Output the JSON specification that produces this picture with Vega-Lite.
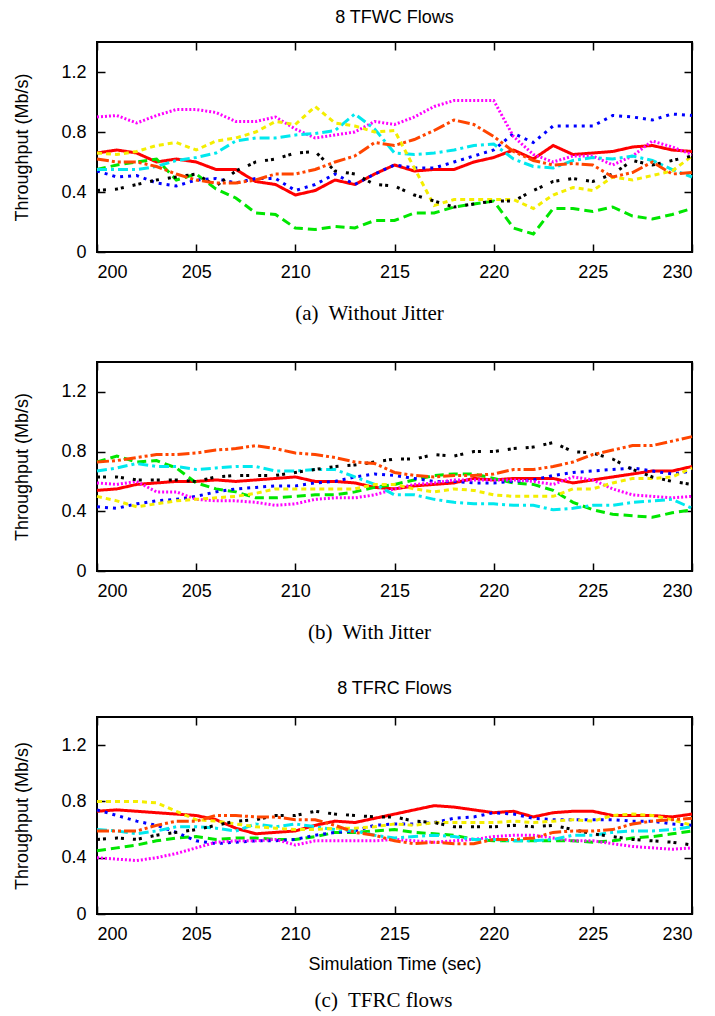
{
"$schema": "https://vega.github.io/schema/vega-lite/v6.json",
"background": "white",
"padding": {"left": 12, "top": 8, "right": 5, "bottom": 5},
"spacing": 36,
"config": {
 "view": {"stroke": "black", "strokeWidth": 2},
 "axis": {"grid": false, "domain": false, "tickColor": "black", "tickWidth": 1.5, "tickSize": -8, "labelPadding": 19, "labelFont": "Liberation Sans", "labelFontSize": 18, "labelColor": "black", "titleFont": "Liberation Sans", "titleFontSize": 18, "titleFontWeight": "normal", "titleColor": "black"},
 "title": {"font": "Liberation Sans", "fontSize": 18, "fontWeight": "normal", "color": "black"}
},
"title": {"text": "(c)\u00a0 TFRC flows", "orient": "bottom", "anchor": "middle", "frame": "group", "offset": 16, "dx": -11, "font": "Liberation Serif", "fontSize": 21, "fontWeight": "normal", "color": "black"},
"datasets": {
"a": [
{"t":200,"f":"r","v":0.66},{"t":201,"f":"r","v":0.68},{"t":202,"f":"r","v":0.66},{"t":203,"f":"r","v":0.60},{"t":204,"f":"r","v":0.62},{"t":205,"f":"r","v":0.60},{"t":206,"f":"r","v":0.55},{"t":207,"f":"r","v":0.55},{"t":208,"f":"r","v":0.47},{"t":209,"f":"r","v":0.45},{"t":210,"f":"r","v":0.38},{"t":211,"f":"r","v":0.41},{"t":212,"f":"r","v":0.48},{"t":213,"f":"r","v":0.45},{"t":214,"f":"r","v":0.52},{"t":215,"f":"r","v":0.58},{"t":216,"f":"r","v":0.54},{"t":217,"f":"r","v":0.55},{"t":218,"f":"r","v":0.55},{"t":219,"f":"r","v":0.60},{"t":220,"f":"r","v":0.63},{"t":221,"f":"r","v":0.68},{"t":222,"f":"r","v":0.62},{"t":223,"f":"r","v":0.71},{"t":224,"f":"r","v":0.65},{"t":225,"f":"r","v":0.66},{"t":226,"f":"r","v":0.67},{"t":227,"f":"r","v":0.70},{"t":228,"f":"r","v":0.71},{"t":229,"f":"r","v":0.68},{"t":230,"f":"r","v":0.67},
{"t":200,"f":"g","v":0.55},{"t":201,"f":"g","v":0.58},{"t":202,"f":"g","v":0.60},{"t":203,"f":"g","v":0.62},{"t":204,"f":"g","v":0.48},{"t":205,"f":"g","v":0.52},{"t":206,"f":"g","v":0.42},{"t":207,"f":"g","v":0.36},{"t":208,"f":"g","v":0.26},{"t":209,"f":"g","v":0.25},{"t":210,"f":"g","v":0.16},{"t":211,"f":"g","v":0.15},{"t":212,"f":"g","v":0.17},{"t":213,"f":"g","v":0.16},{"t":214,"f":"g","v":0.21},{"t":215,"f":"g","v":0.21},{"t":216,"f":"g","v":0.26},{"t":217,"f":"g","v":0.26},{"t":218,"f":"g","v":0.30},{"t":219,"f":"g","v":0.32},{"t":220,"f":"g","v":0.34},{"t":221,"f":"g","v":0.16},{"t":222,"f":"g","v":0.12},{"t":223,"f":"g","v":0.29},{"t":224,"f":"g","v":0.29},{"t":225,"f":"g","v":0.27},{"t":226,"f":"g","v":0.30},{"t":227,"f":"g","v":0.24},{"t":228,"f":"g","v":0.22},{"t":229,"f":"g","v":0.25},{"t":230,"f":"g","v":0.29},
{"t":200,"f":"b","v":0.54},{"t":201,"f":"b","v":0.50},{"t":202,"f":"b","v":0.51},{"t":203,"f":"b","v":0.46},{"t":204,"f":"b","v":0.44},{"t":205,"f":"b","v":0.48},{"t":206,"f":"b","v":0.49},{"t":207,"f":"b","v":0.46},{"t":208,"f":"b","v":0.49},{"t":209,"f":"b","v":0.49},{"t":210,"f":"b","v":0.41},{"t":211,"f":"b","v":0.45},{"t":212,"f":"b","v":0.52},{"t":213,"f":"b","v":0.45},{"t":214,"f":"b","v":0.52},{"t":215,"f":"b","v":0.58},{"t":216,"f":"b","v":0.56},{"t":217,"f":"b","v":0.56},{"t":218,"f":"b","v":0.60},{"t":219,"f":"b","v":0.64},{"t":220,"f":"b","v":0.68},{"t":221,"f":"b","v":0.79},{"t":222,"f":"b","v":0.73},{"t":223,"f":"b","v":0.84},{"t":224,"f":"b","v":0.84},{"t":225,"f":"b","v":0.84},{"t":226,"f":"b","v":0.91},{"t":227,"f":"b","v":0.90},{"t":228,"f":"b","v":0.88},{"t":229,"f":"b","v":0.92},{"t":230,"f":"b","v":0.91},
{"t":200,"f":"m","v":0.90},{"t":201,"f":"m","v":0.91},{"t":202,"f":"m","v":0.86},{"t":203,"f":"m","v":0.91},{"t":204,"f":"m","v":0.95},{"t":205,"f":"m","v":0.95},{"t":206,"f":"m","v":0.93},{"t":207,"f":"m","v":0.87},{"t":208,"f":"m","v":0.87},{"t":209,"f":"m","v":0.90},{"t":210,"f":"m","v":0.82},{"t":211,"f":"m","v":0.76},{"t":212,"f":"m","v":0.78},{"t":213,"f":"m","v":0.80},{"t":214,"f":"m","v":0.87},{"t":215,"f":"m","v":0.85},{"t":216,"f":"m","v":0.90},{"t":217,"f":"m","v":0.97},{"t":218,"f":"m","v":1.01},{"t":219,"f":"m","v":1.01},{"t":220,"f":"m","v":1.01},{"t":221,"f":"m","v":0.77},{"t":222,"f":"m","v":0.65},{"t":223,"f":"m","v":0.60},{"t":224,"f":"m","v":0.64},{"t":225,"f":"m","v":0.64},{"t":226,"f":"m","v":0.58},{"t":227,"f":"m","v":0.64},{"t":228,"f":"m","v":0.74},{"t":229,"f":"m","v":0.70},{"t":230,"f":"m","v":0.65},
{"t":200,"f":"c","v":0.55},{"t":201,"f":"c","v":0.55},{"t":202,"f":"c","v":0.55},{"t":203,"f":"c","v":0.57},{"t":204,"f":"c","v":0.61},{"t":205,"f":"c","v":0.63},{"t":206,"f":"c","v":0.66},{"t":207,"f":"c","v":0.74},{"t":208,"f":"c","v":0.76},{"t":209,"f":"c","v":0.76},{"t":210,"f":"c","v":0.78},{"t":211,"f":"c","v":0.79},{"t":212,"f":"c","v":0.81},{"t":213,"f":"c","v":0.92},{"t":214,"f":"c","v":0.82},{"t":215,"f":"c","v":0.66},{"t":216,"f":"c","v":0.65},{"t":217,"f":"c","v":0.66},{"t":218,"f":"c","v":0.68},{"t":219,"f":"c","v":0.71},{"t":220,"f":"c","v":0.72},{"t":221,"f":"c","v":0.62},{"t":222,"f":"c","v":0.57},{"t":223,"f":"c","v":0.56},{"t":224,"f":"c","v":0.61},{"t":225,"f":"c","v":0.63},{"t":226,"f":"c","v":0.62},{"t":227,"f":"c","v":0.64},{"t":228,"f":"c","v":0.61},{"t":229,"f":"c","v":0.55},{"t":230,"f":"c","v":0.50},
{"t":200,"f":"y","v":0.66},{"t":201,"f":"y","v":0.65},{"t":202,"f":"y","v":0.67},{"t":203,"f":"y","v":0.71},{"t":204,"f":"y","v":0.73},{"t":205,"f":"y","v":0.68},{"t":206,"f":"y","v":0.74},{"t":207,"f":"y","v":0.76},{"t":208,"f":"y","v":0.80},{"t":209,"f":"y","v":0.87},{"t":210,"f":"y","v":0.85},{"t":211,"f":"y","v":0.97},{"t":212,"f":"y","v":0.86},{"t":213,"f":"y","v":0.84},{"t":214,"f":"y","v":0.80},{"t":215,"f":"y","v":0.81},{"t":216,"f":"y","v":0.56},{"t":217,"f":"y","v":0.31},{"t":218,"f":"y","v":0.35},{"t":219,"f":"y","v":0.35},{"t":220,"f":"y","v":0.35},{"t":221,"f":"y","v":0.35},{"t":222,"f":"y","v":0.29},{"t":223,"f":"y","v":0.38},{"t":224,"f":"y","v":0.43},{"t":225,"f":"y","v":0.41},{"t":226,"f":"y","v":0.50},{"t":227,"f":"y","v":0.48},{"t":228,"f":"y","v":0.51},{"t":229,"f":"y","v":0.54},{"t":230,"f":"y","v":0.64},
{"t":200,"f":"k","v":0.41},{"t":201,"f":"k","v":0.42},{"t":202,"f":"k","v":0.45},{"t":203,"f":"k","v":0.48},{"t":204,"f":"k","v":0.50},{"t":205,"f":"k","v":0.52},{"t":206,"f":"k","v":0.44},{"t":207,"f":"k","v":0.54},{"t":208,"f":"k","v":0.60},{"t":209,"f":"k","v":0.62},{"t":210,"f":"k","v":0.66},{"t":211,"f":"k","v":0.67},{"t":212,"f":"k","v":0.54},{"t":213,"f":"k","v":0.52},{"t":214,"f":"k","v":0.45},{"t":215,"f":"k","v":0.44},{"t":216,"f":"k","v":0.38},{"t":217,"f":"k","v":0.34},{"t":218,"f":"k","v":0.30},{"t":219,"f":"k","v":0.32},{"t":220,"f":"k","v":0.34},{"t":221,"f":"k","v":0.34},{"t":222,"f":"k","v":0.41},{"t":223,"f":"k","v":0.47},{"t":224,"f":"k","v":0.49},{"t":225,"f":"k","v":0.47},{"t":226,"f":"k","v":0.52},{"t":227,"f":"k","v":0.61},{"t":228,"f":"k","v":0.58},{"t":229,"f":"k","v":0.61},{"t":230,"f":"k","v":0.64},
{"t":200,"f":"o","v":0.62},{"t":201,"f":"o","v":0.60},{"t":202,"f":"o","v":0.60},{"t":203,"f":"o","v":0.57},{"t":204,"f":"o","v":0.52},{"t":205,"f":"o","v":0.48},{"t":206,"f":"o","v":0.46},{"t":207,"f":"o","v":0.46},{"t":208,"f":"o","v":0.48},{"t":209,"f":"o","v":0.52},{"t":210,"f":"o","v":0.52},{"t":211,"f":"o","v":0.55},{"t":212,"f":"o","v":0.60},{"t":213,"f":"o","v":0.64},{"t":214,"f":"o","v":0.73},{"t":215,"f":"o","v":0.71},{"t":216,"f":"o","v":0.75},{"t":217,"f":"o","v":0.81},{"t":218,"f":"o","v":0.88},{"t":219,"f":"o","v":0.85},{"t":220,"f":"o","v":0.77},{"t":221,"f":"o","v":0.67},{"t":222,"f":"o","v":0.61},{"t":223,"f":"o","v":0.58},{"t":224,"f":"o","v":0.59},{"t":225,"f":"o","v":0.58},{"t":226,"f":"o","v":0.50},{"t":227,"f":"o","v":0.53},{"t":228,"f":"o","v":0.60},{"t":229,"f":"o","v":0.52},{"t":230,"f":"o","v":0.53}
],
"b": [
{"t":200,"f":"r","v":0.54},{"t":201,"f":"r","v":0.55},{"t":202,"f":"r","v":0.58},{"t":203,"f":"r","v":0.59},{"t":204,"f":"r","v":0.60},{"t":205,"f":"r","v":0.60},{"t":206,"f":"r","v":0.61},{"t":207,"f":"r","v":0.60},{"t":208,"f":"r","v":0.61},{"t":209,"f":"r","v":0.62},{"t":210,"f":"r","v":0.63},{"t":211,"f":"r","v":0.60},{"t":212,"f":"r","v":0.60},{"t":213,"f":"r","v":0.59},{"t":214,"f":"r","v":0.56},{"t":215,"f":"r","v":0.55},{"t":216,"f":"r","v":0.57},{"t":217,"f":"r","v":0.58},{"t":218,"f":"r","v":0.59},{"t":219,"f":"r","v":0.62},{"t":220,"f":"r","v":0.61},{"t":221,"f":"r","v":0.62},{"t":222,"f":"r","v":0.62},{"t":223,"f":"r","v":0.62},{"t":224,"f":"r","v":0.59},{"t":225,"f":"r","v":0.61},{"t":226,"f":"r","v":0.63},{"t":227,"f":"r","v":0.65},{"t":228,"f":"r","v":0.67},{"t":229,"f":"r","v":0.67},{"t":230,"f":"r","v":0.70},
{"t":200,"f":"g","v":0.73},{"t":201,"f":"g","v":0.77},{"t":202,"f":"g","v":0.73},{"t":203,"f":"g","v":0.74},{"t":204,"f":"g","v":0.69},{"t":205,"f":"g","v":0.59},{"t":206,"f":"g","v":0.55},{"t":207,"f":"g","v":0.53},{"t":208,"f":"g","v":0.49},{"t":209,"f":"g","v":0.49},{"t":210,"f":"g","v":0.50},{"t":211,"f":"g","v":0.51},{"t":212,"f":"g","v":0.51},{"t":213,"f":"g","v":0.53},{"t":214,"f":"g","v":0.56},{"t":215,"f":"g","v":0.58},{"t":216,"f":"g","v":0.61},{"t":217,"f":"g","v":0.64},{"t":218,"f":"g","v":0.65},{"t":219,"f":"g","v":0.65},{"t":220,"f":"g","v":0.62},{"t":221,"f":"g","v":0.59},{"t":222,"f":"g","v":0.58},{"t":223,"f":"g","v":0.54},{"t":224,"f":"g","v":0.46},{"t":225,"f":"g","v":0.41},{"t":226,"f":"g","v":0.38},{"t":227,"f":"g","v":0.37},{"t":228,"f":"g","v":0.36},{"t":229,"f":"g","v":0.39},{"t":230,"f":"g","v":0.41},
{"t":200,"f":"b","v":0.43},{"t":201,"f":"b","v":0.42},{"t":202,"f":"b","v":0.45},{"t":203,"f":"b","v":0.47},{"t":204,"f":"b","v":0.48},{"t":205,"f":"b","v":0.50},{"t":206,"f":"b","v":0.53},{"t":207,"f":"b","v":0.55},{"t":208,"f":"b","v":0.56},{"t":209,"f":"b","v":0.57},{"t":210,"f":"b","v":0.57},{"t":211,"f":"b","v":0.59},{"t":212,"f":"b","v":0.60},{"t":213,"f":"b","v":0.63},{"t":214,"f":"b","v":0.65},{"t":215,"f":"b","v":0.64},{"t":216,"f":"b","v":0.62},{"t":217,"f":"b","v":0.60},{"t":218,"f":"b","v":0.60},{"t":219,"f":"b","v":0.59},{"t":220,"f":"b","v":0.59},{"t":221,"f":"b","v":0.60},{"t":222,"f":"b","v":0.61},{"t":223,"f":"b","v":0.64},{"t":224,"f":"b","v":0.66},{"t":225,"f":"b","v":0.67},{"t":226,"f":"b","v":0.68},{"t":227,"f":"b","v":0.69},{"t":228,"f":"b","v":0.67},{"t":229,"f":"b","v":0.65},{"t":230,"f":"b","v":0.67},
{"t":200,"f":"m","v":0.59},{"t":201,"f":"m","v":0.58},{"t":202,"f":"m","v":0.60},{"t":203,"f":"m","v":0.53},{"t":204,"f":"m","v":0.53},{"t":205,"f":"m","v":0.48},{"t":206,"f":"m","v":0.47},{"t":207,"f":"m","v":0.47},{"t":208,"f":"m","v":0.46},{"t":209,"f":"m","v":0.44},{"t":210,"f":"m","v":0.45},{"t":211,"f":"m","v":0.48},{"t":212,"f":"m","v":0.49},{"t":213,"f":"m","v":0.49},{"t":214,"f":"m","v":0.51},{"t":215,"f":"m","v":0.55},{"t":216,"f":"m","v":0.58},{"t":217,"f":"m","v":0.59},{"t":218,"f":"m","v":0.61},{"t":219,"f":"m","v":0.61},{"t":220,"f":"m","v":0.61},{"t":221,"f":"m","v":0.61},{"t":222,"f":"m","v":0.60},{"t":223,"f":"m","v":0.58},{"t":224,"f":"m","v":0.63},{"t":225,"f":"m","v":0.61},{"t":226,"f":"m","v":0.55},{"t":227,"f":"m","v":0.51},{"t":228,"f":"m","v":0.50},{"t":229,"f":"m","v":0.49},{"t":230,"f":"m","v":0.50},
{"t":200,"f":"c","v":0.67},{"t":201,"f":"c","v":0.69},{"t":202,"f":"c","v":0.72},{"t":203,"f":"c","v":0.70},{"t":204,"f":"c","v":0.70},{"t":205,"f":"c","v":0.68},{"t":206,"f":"c","v":0.69},{"t":207,"f":"c","v":0.70},{"t":208,"f":"c","v":0.70},{"t":209,"f":"c","v":0.67},{"t":210,"f":"c","v":0.67},{"t":211,"f":"c","v":0.68},{"t":212,"f":"c","v":0.68},{"t":213,"f":"c","v":0.63},{"t":214,"f":"c","v":0.58},{"t":215,"f":"c","v":0.51},{"t":216,"f":"c","v":0.51},{"t":217,"f":"c","v":0.48},{"t":218,"f":"c","v":0.46},{"t":219,"f":"c","v":0.45},{"t":220,"f":"c","v":0.45},{"t":221,"f":"c","v":0.44},{"t":222,"f":"c","v":0.44},{"t":223,"f":"c","v":0.41},{"t":224,"f":"c","v":0.42},{"t":225,"f":"c","v":0.44},{"t":226,"f":"c","v":0.44},{"t":227,"f":"c","v":0.46},{"t":228,"f":"c","v":0.47},{"t":229,"f":"c","v":0.48},{"t":230,"f":"c","v":0.42},
{"t":200,"f":"y","v":0.50},{"t":201,"f":"y","v":0.47},{"t":202,"f":"y","v":0.43},{"t":203,"f":"y","v":0.45},{"t":204,"f":"y","v":0.47},{"t":205,"f":"y","v":0.48},{"t":206,"f":"y","v":0.49},{"t":207,"f":"y","v":0.50},{"t":208,"f":"y","v":0.52},{"t":209,"f":"y","v":0.55},{"t":210,"f":"y","v":0.55},{"t":211,"f":"y","v":0.55},{"t":212,"f":"y","v":0.55},{"t":213,"f":"y","v":0.55},{"t":214,"f":"y","v":0.58},{"t":215,"f":"y","v":0.58},{"t":216,"f":"y","v":0.55},{"t":217,"f":"y","v":0.53},{"t":218,"f":"y","v":0.55},{"t":219,"f":"y","v":0.54},{"t":220,"f":"y","v":0.51},{"t":221,"f":"y","v":0.50},{"t":222,"f":"y","v":0.50},{"t":223,"f":"y","v":0.50},{"t":224,"f":"y","v":0.55},{"t":225,"f":"y","v":0.55},{"t":226,"f":"y","v":0.59},{"t":227,"f":"y","v":0.62},{"t":228,"f":"y","v":0.62},{"t":229,"f":"y","v":0.63},{"t":230,"f":"y","v":0.69},
{"t":200,"f":"k","v":0.63},{"t":201,"f":"k","v":0.63},{"t":202,"f":"k","v":0.61},{"t":203,"f":"k","v":0.61},{"t":204,"f":"k","v":0.61},{"t":205,"f":"k","v":0.60},{"t":206,"f":"k","v":0.63},{"t":207,"f":"k","v":0.64},{"t":208,"f":"k","v":0.64},{"t":209,"f":"k","v":0.64},{"t":210,"f":"k","v":0.66},{"t":211,"f":"k","v":0.68},{"t":212,"f":"k","v":0.70},{"t":213,"f":"k","v":0.71},{"t":214,"f":"k","v":0.73},{"t":215,"f":"k","v":0.75},{"t":216,"f":"k","v":0.75},{"t":217,"f":"k","v":0.78},{"t":218,"f":"k","v":0.77},{"t":219,"f":"k","v":0.80},{"t":220,"f":"k","v":0.80},{"t":221,"f":"k","v":0.82},{"t":222,"f":"k","v":0.83},{"t":223,"f":"k","v":0.86},{"t":224,"f":"k","v":0.80},{"t":225,"f":"k","v":0.79},{"t":226,"f":"k","v":0.75},{"t":227,"f":"k","v":0.68},{"t":228,"f":"k","v":0.63},{"t":229,"f":"k","v":0.60},{"t":230,"f":"k","v":0.58},
{"t":200,"f":"o","v":0.73},{"t":201,"f":"o","v":0.74},{"t":202,"f":"o","v":0.76},{"t":203,"f":"o","v":0.78},{"t":204,"f":"o","v":0.78},{"t":205,"f":"o","v":0.79},{"t":206,"f":"o","v":0.81},{"t":207,"f":"o","v":0.82},{"t":208,"f":"o","v":0.84},{"t":209,"f":"o","v":0.82},{"t":210,"f":"o","v":0.79},{"t":211,"f":"o","v":0.78},{"t":212,"f":"o","v":0.76},{"t":213,"f":"o","v":0.73},{"t":214,"f":"o","v":0.72},{"t":215,"f":"o","v":0.66},{"t":216,"f":"o","v":0.64},{"t":217,"f":"o","v":0.63},{"t":218,"f":"o","v":0.64},{"t":219,"f":"o","v":0.64},{"t":220,"f":"o","v":0.65},{"t":221,"f":"o","v":0.68},{"t":222,"f":"o","v":0.68},{"t":223,"f":"o","v":0.70},{"t":224,"f":"o","v":0.73},{"t":225,"f":"o","v":0.78},{"t":226,"f":"o","v":0.81},{"t":227,"f":"o","v":0.84},{"t":228,"f":"o","v":0.84},{"t":229,"f":"o","v":0.87},{"t":230,"f":"o","v":0.90}
],
"c": [
{"t":200,"f":"r","v":0.73},{"t":201,"f":"r","v":0.74},{"t":202,"f":"r","v":0.73},{"t":203,"f":"r","v":0.72},{"t":204,"f":"r","v":0.71},{"t":205,"f":"r","v":0.70},{"t":206,"f":"r","v":0.67},{"t":207,"f":"r","v":0.61},{"t":208,"f":"r","v":0.57},{"t":209,"f":"r","v":0.58},{"t":210,"f":"r","v":0.59},{"t":211,"f":"r","v":0.63},{"t":212,"f":"r","v":0.66},{"t":213,"f":"r","v":0.65},{"t":214,"f":"r","v":0.68},{"t":215,"f":"r","v":0.71},{"t":216,"f":"r","v":0.74},{"t":217,"f":"r","v":0.77},{"t":218,"f":"r","v":0.76},{"t":219,"f":"r","v":0.74},{"t":220,"f":"r","v":0.72},{"t":221,"f":"r","v":0.73},{"t":222,"f":"r","v":0.69},{"t":223,"f":"r","v":0.72},{"t":224,"f":"r","v":0.73},{"t":225,"f":"r","v":0.73},{"t":226,"f":"r","v":0.70},{"t":227,"f":"r","v":0.70},{"t":228,"f":"r","v":0.70},{"t":229,"f":"r","v":0.69},{"t":230,"f":"r","v":0.71},
{"t":200,"f":"g","v":0.45},{"t":201,"f":"g","v":0.47},{"t":202,"f":"g","v":0.49},{"t":203,"f":"g","v":0.52},{"t":204,"f":"g","v":0.54},{"t":205,"f":"g","v":0.55},{"t":206,"f":"g","v":0.53},{"t":207,"f":"g","v":0.54},{"t":208,"f":"g","v":0.54},{"t":209,"f":"g","v":0.53},{"t":210,"f":"g","v":0.53},{"t":211,"f":"g","v":0.55},{"t":212,"f":"g","v":0.58},{"t":213,"f":"g","v":0.58},{"t":214,"f":"g","v":0.59},{"t":215,"f":"g","v":0.60},{"t":216,"f":"g","v":0.58},{"t":217,"f":"g","v":0.57},{"t":218,"f":"g","v":0.56},{"t":219,"f":"g","v":0.53},{"t":220,"f":"g","v":0.52},{"t":221,"f":"g","v":0.52},{"t":222,"f":"g","v":0.52},{"t":223,"f":"g","v":0.52},{"t":224,"f":"g","v":0.52},{"t":225,"f":"g","v":0.51},{"t":226,"f":"g","v":0.52},{"t":227,"f":"g","v":0.54},{"t":228,"f":"g","v":0.55},{"t":229,"f":"g","v":0.57},{"t":230,"f":"g","v":0.59},
{"t":200,"f":"b","v":0.74},{"t":201,"f":"b","v":0.70},{"t":202,"f":"b","v":0.66},{"t":203,"f":"b","v":0.63},{"t":204,"f":"b","v":0.58},{"t":205,"f":"b","v":0.52},{"t":206,"f":"b","v":0.50},{"t":207,"f":"b","v":0.51},{"t":208,"f":"b","v":0.52},{"t":209,"f":"b","v":0.52},{"t":210,"f":"b","v":0.53},{"t":211,"f":"b","v":0.56},{"t":212,"f":"b","v":0.58},{"t":213,"f":"b","v":0.59},{"t":214,"f":"b","v":0.63},{"t":215,"f":"b","v":0.64},{"t":216,"f":"b","v":0.64},{"t":217,"f":"b","v":0.65},{"t":218,"f":"b","v":0.68},{"t":219,"f":"b","v":0.69},{"t":220,"f":"b","v":0.72},{"t":221,"f":"b","v":0.71},{"t":222,"f":"b","v":0.68},{"t":223,"f":"b","v":0.67},{"t":224,"f":"b","v":0.67},{"t":225,"f":"b","v":0.67},{"t":226,"f":"b","v":0.67},{"t":227,"f":"b","v":0.66},{"t":228,"f":"b","v":0.66},{"t":229,"f":"b","v":0.64},{"t":230,"f":"b","v":0.63},
{"t":200,"f":"m","v":0.40},{"t":201,"f":"m","v":0.39},{"t":202,"f":"m","v":0.38},{"t":203,"f":"m","v":0.40},{"t":204,"f":"m","v":0.43},{"t":205,"f":"m","v":0.47},{"t":206,"f":"m","v":0.51},{"t":207,"f":"m","v":0.52},{"t":208,"f":"m","v":0.52},{"t":209,"f":"m","v":0.53},{"t":210,"f":"m","v":0.49},{"t":211,"f":"m","v":0.52},{"t":212,"f":"m","v":0.52},{"t":213,"f":"m","v":0.52},{"t":214,"f":"m","v":0.52},{"t":215,"f":"m","v":0.53},{"t":216,"f":"m","v":0.52},{"t":217,"f":"m","v":0.51},{"t":218,"f":"m","v":0.52},{"t":219,"f":"m","v":0.53},{"t":220,"f":"m","v":0.55},{"t":221,"f":"m","v":0.56},{"t":222,"f":"m","v":0.56},{"t":223,"f":"m","v":0.54},{"t":224,"f":"m","v":0.52},{"t":225,"f":"m","v":0.52},{"t":226,"f":"m","v":0.50},{"t":227,"f":"m","v":0.48},{"t":228,"f":"m","v":0.47},{"t":229,"f":"m","v":0.46},{"t":230,"f":"m","v":0.47},
{"t":200,"f":"c","v":0.60},{"t":201,"f":"c","v":0.59},{"t":202,"f":"c","v":0.57},{"t":203,"f":"c","v":0.59},{"t":204,"f":"c","v":0.62},{"t":205,"f":"c","v":0.62},{"t":206,"f":"c","v":0.61},{"t":207,"f":"c","v":0.59},{"t":208,"f":"c","v":0.64},{"t":209,"f":"c","v":0.62},{"t":210,"f":"c","v":0.64},{"t":211,"f":"c","v":0.62},{"t":212,"f":"c","v":0.60},{"t":213,"f":"c","v":0.59},{"t":214,"f":"c","v":0.56},{"t":215,"f":"c","v":0.54},{"t":216,"f":"c","v":0.55},{"t":217,"f":"c","v":0.56},{"t":218,"f":"c","v":0.55},{"t":219,"f":"c","v":0.53},{"t":220,"f":"c","v":0.53},{"t":221,"f":"c","v":0.52},{"t":222,"f":"c","v":0.52},{"t":223,"f":"c","v":0.53},{"t":224,"f":"c","v":0.56},{"t":225,"f":"c","v":0.56},{"t":226,"f":"c","v":0.58},{"t":227,"f":"c","v":0.59},{"t":228,"f":"c","v":0.59},{"t":229,"f":"c","v":0.60},{"t":230,"f":"c","v":0.62},
{"t":200,"f":"y","v":0.80},{"t":201,"f":"y","v":0.80},{"t":202,"f":"y","v":0.80},{"t":203,"f":"y","v":0.79},{"t":204,"f":"y","v":0.73},{"t":205,"f":"y","v":0.67},{"t":206,"f":"y","v":0.66},{"t":207,"f":"y","v":0.64},{"t":208,"f":"y","v":0.62},{"t":209,"f":"y","v":0.61},{"t":210,"f":"y","v":0.60},{"t":211,"f":"y","v":0.60},{"t":212,"f":"y","v":0.61},{"t":213,"f":"y","v":0.61},{"t":214,"f":"y","v":0.62},{"t":215,"f":"y","v":0.64},{"t":216,"f":"y","v":0.63},{"t":217,"f":"y","v":0.65},{"t":218,"f":"y","v":0.65},{"t":219,"f":"y","v":0.65},{"t":220,"f":"y","v":0.65},{"t":221,"f":"y","v":0.66},{"t":222,"f":"y","v":0.65},{"t":223,"f":"y","v":0.66},{"t":224,"f":"y","v":0.67},{"t":225,"f":"y","v":0.66},{"t":226,"f":"y","v":0.70},{"t":227,"f":"y","v":0.71},{"t":228,"f":"y","v":0.70},{"t":229,"f":"y","v":0.67},{"t":230,"f":"y","v":0.63},
{"t":200,"f":"k","v":0.53},{"t":201,"f":"k","v":0.54},{"t":202,"f":"k","v":0.53},{"t":203,"f":"k","v":0.56},{"t":204,"f":"k","v":0.58},{"t":205,"f":"k","v":0.60},{"t":206,"f":"k","v":0.63},{"t":207,"f":"k","v":0.66},{"t":208,"f":"k","v":0.67},{"t":209,"f":"k","v":0.70},{"t":210,"f":"k","v":0.70},{"t":211,"f":"k","v":0.73},{"t":212,"f":"k","v":0.71},{"t":213,"f":"k","v":0.70},{"t":214,"f":"k","v":0.69},{"t":215,"f":"k","v":0.69},{"t":216,"f":"k","v":0.66},{"t":217,"f":"k","v":0.65},{"t":218,"f":"k","v":0.62},{"t":219,"f":"k","v":0.62},{"t":220,"f":"k","v":0.62},{"t":221,"f":"k","v":0.63},{"t":222,"f":"k","v":0.62},{"t":223,"f":"k","v":0.63},{"t":224,"f":"k","v":0.60},{"t":225,"f":"k","v":0.57},{"t":226,"f":"k","v":0.55},{"t":227,"f":"k","v":0.53},{"t":228,"f":"k","v":0.52},{"t":229,"f":"k","v":0.51},{"t":230,"f":"k","v":0.49},
{"t":200,"f":"o","v":0.59},{"t":201,"f":"o","v":0.59},{"t":202,"f":"o","v":0.59},{"t":203,"f":"o","v":0.63},{"t":204,"f":"o","v":0.66},{"t":205,"f":"o","v":0.66},{"t":206,"f":"o","v":0.70},{"t":207,"f":"o","v":0.70},{"t":208,"f":"o","v":0.69},{"t":209,"f":"o","v":0.69},{"t":210,"f":"o","v":0.67},{"t":211,"f":"o","v":0.67},{"t":212,"f":"o","v":0.63},{"t":213,"f":"o","v":0.58},{"t":214,"f":"o","v":0.56},{"t":215,"f":"o","v":0.52},{"t":216,"f":"o","v":0.50},{"t":217,"f":"o","v":0.51},{"t":218,"f":"o","v":0.50},{"t":219,"f":"o","v":0.50},{"t":220,"f":"o","v":0.53},{"t":221,"f":"o","v":0.53},{"t":222,"f":"o","v":0.54},{"t":223,"f":"o","v":0.58},{"t":224,"f":"o","v":0.59},{"t":225,"f":"o","v":0.59},{"t":226,"f":"o","v":0.60},{"t":227,"f":"o","v":0.64},{"t":228,"f":"o","v":0.66},{"t":229,"f":"o","v":0.67},{"t":230,"f":"o","v":0.68}
]
},
"vconcat": [
{
 "width": 595, "height": 210,
 "data": {"name": "a"},
 "title": {"text": "8 TFWC Flows", "frame": "group", "anchor": "middle", "offset": 14},
 "layer": [
  {"mark": {"type": "line", "strokeWidth": 3, "strokeCap": "butt"},
   "encoding": {
    "x": {"field": "t", "type": "quantitative", "scale": {"domain": [200, 230], "nice": false, "zero": false},
      "axis": {"orient": "bottom", "values": [200,205,210,215,220,225,230], "format": "d", "title": "(a)\u00a0 Without Jitter", "titleFont": "Liberation Serif", "titleFontSize": 21, "titleX": 272, "titleY": 61, "titleAlign": "center", "titleBaseline": "middle"}},
    "y": {"field": "v", "type": "quantitative", "scale": {"domain": [0, 1.4], "nice": false},
      "axis": {"orient": "left", "values": [0,0.4,0.8,1.2], "format": ".1~f", "title": "Throughput (Mb/s)", "titleX": -75, "titleY": 105, "titleAngle": 270, "titleAlign": "center", "titleBaseline": "middle"}},
    "color": {"field": "f", "type": "nominal", "scale": {"domain": ["r","g","b","m","c","y","k","o"], "range": ["#ff0000","#00e600","#0000ff","#ff00ff","#00e8ee","#f4ee00","#000000","#ff4500"]}, "legend": null},
    "strokeDash": {"field": "f", "type": "nominal", "scale": {"domain": ["r","g","b","m","c","y","k","o"], "range": [[1,0],[9,5],[3,5],[2,2],[10,4,3,4],[5,4],[3,3,3,9],[12,3,3,3,3,3]]}, "legend": null}
   }},
  {"mark": {"type": "line", "opacity": 0},
   "encoding": {
    "x": {"field": "t", "type": "quantitative", "axis": {"orient": "top", "values": [200,205,210,215,220,225,230], "labels": false, "title": null}},
    "y": {"field": "v", "type": "quantitative", "axis": {"orient": "right", "values": [0.4,0.8,1.2], "labels": false, "title": null}},
    "detail": {"field": "f"}
   }}
 ],
 "resolve": {"axis": {"x": "independent", "y": "independent"}}
},
{
 "width": 595, "height": 209,
 "data": {"name": "b"},
 "layer": [
  {"mark": {"type": "line", "strokeWidth": 3, "strokeCap": "butt"},
   "encoding": {
    "x": {"field": "t", "type": "quantitative", "scale": {"domain": [200, 230], "nice": false, "zero": false},
      "axis": {"orient": "bottom", "values": [200,205,210,215,220,225,230], "format": "d", "title": "(b)\u00a0 With Jitter", "titleFont": "Liberation Serif", "titleFontSize": 21, "titleX": 272, "titleY": 61, "titleAlign": "center", "titleBaseline": "middle"}},
    "y": {"field": "v", "type": "quantitative", "scale": {"domain": [0, 1.4], "nice": false},
      "axis": {"orient": "left", "values": [0,0.4,0.8,1.2], "format": ".1~f", "title": "Throughput (Mb/s)", "titleX": -75, "titleY": 104.5, "titleAngle": 270, "titleAlign": "center", "titleBaseline": "middle"}},
    "color": {"field": "f", "type": "nominal", "scale": {"domain": ["r","g","b","m","c","y","k","o"], "range": ["#ff0000","#00e600","#0000ff","#ff00ff","#00e8ee","#f4ee00","#000000","#ff4500"]}, "legend": null},
    "strokeDash": {"field": "f", "type": "nominal", "scale": {"domain": ["r","g","b","m","c","y","k","o"], "range": [[1,0],[9,5],[3,5],[2,2],[10,4,3,4],[5,4],[3,3,3,9],[12,3,3,3,3,3]]}, "legend": null}
   }},
  {"mark": {"type": "line", "opacity": 0},
   "encoding": {
    "x": {"field": "t", "type": "quantitative", "axis": {"orient": "top", "values": [200,205,210,215,220,225,230], "labels": false, "title": null}},
    "y": {"field": "v", "type": "quantitative", "axis": {"orient": "right", "values": [0.4,0.8,1.2], "labels": false, "title": null}},
    "detail": {"field": "f"}
   }}
 ],
 "resolve": {"axis": {"x": "independent", "y": "independent"}}
},
{
 "width": 595, "height": 197,
 "data": {"name": "c"},
 "title": {"text": "8 TFRC Flows", "frame": "group", "anchor": "middle", "offset": 18},
 "layer": [
  {"mark": {"type": "line", "strokeWidth": 3, "strokeCap": "butt"},
   "encoding": {
    "x": {"field": "t", "type": "quantitative", "scale": {"domain": [200, 230], "nice": false, "zero": false},
      "axis": {"orient": "bottom", "values": [200,205,210,215,220,225,230], "format": "d", "title": "Simulation Time (sec)", "titleX": 297.5, "titleY": 50, "titleAlign": "center", "titleBaseline": "middle"}},
    "y": {"field": "v", "type": "quantitative", "scale": {"domain": [0, 1.4], "nice": false},
      "axis": {"orient": "left", "values": [0,0.4,0.8,1.2], "format": ".1~f", "title": "Throughput (Mb/s)", "titleX": -75, "titleY": 98.5, "titleAngle": 270, "titleAlign": "center", "titleBaseline": "middle"}},
    "color": {"field": "f", "type": "nominal", "scale": {"domain": ["r","g","b","m","c","y","k","o"], "range": ["#ff0000","#00e600","#0000ff","#ff00ff","#00e8ee","#f4ee00","#000000","#ff4500"]}, "legend": null},
    "strokeDash": {"field": "f", "type": "nominal", "scale": {"domain": ["r","g","b","m","c","y","k","o"], "range": [[1,0],[9,5],[3,5],[2,2],[10,4,3,4],[5,4],[3,3,3,9],[12,3,3,3,3,3]]}, "legend": null}
   }},
  {"mark": {"type": "line", "opacity": 0},
   "encoding": {
    "x": {"field": "t", "type": "quantitative", "axis": {"orient": "top", "values": [200,205,210,215,220,225,230], "labels": false, "title": null}},
    "y": {"field": "v", "type": "quantitative", "axis": {"orient": "right", "values": [0.4,0.8,1.2], "labels": false, "title": null}},
    "detail": {"field": "f"}
   }}
 ],
 "resolve": {"axis": {"x": "independent", "y": "independent"}}
}
]
}
